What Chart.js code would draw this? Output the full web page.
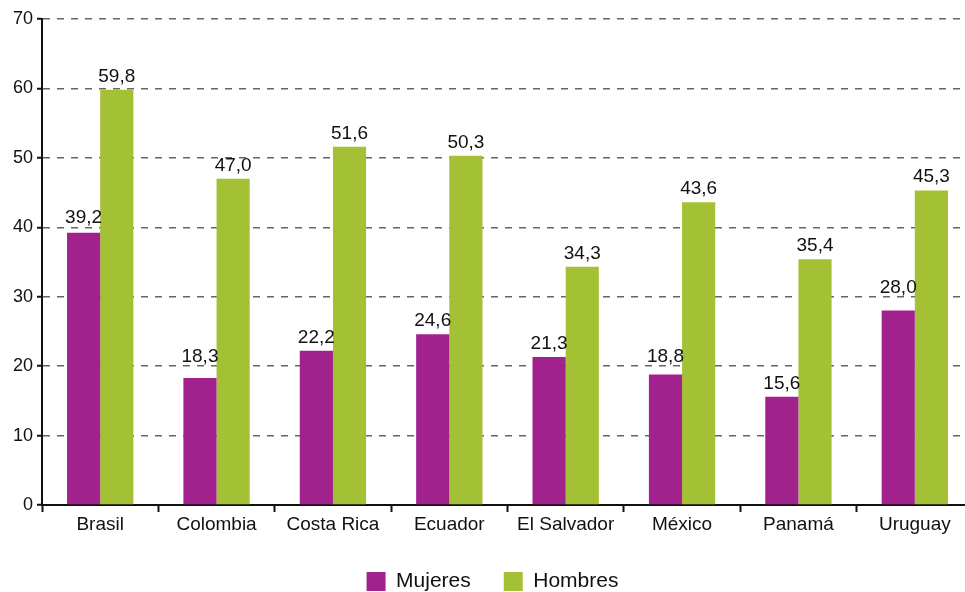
<!DOCTYPE html>
<html>
<head>
<meta charset="utf-8">
<script src="https://cdn.jsdelivr.net/npm/chart.js@4/dist/chart.umd.min.js"></script>
<style>
  html, body { margin: 0; padding: 0; background: #fff; overflow: hidden; }
  #wrap { width: 973px; height: 592px; }
</style>
</head>
<body>
<div id="wrap"><canvas id="chart"></canvas></div>
<script>
const countries = ["Brasil", "Colombia", "Costa Rica", "Ecuador", "El Salvador", "México", "Panamá", "Uruguay"];
const mujeres = [39.2, 18.3, 22.2, 24.6, 21.3, 18.8, 15.6, 28.0];
const hombres = [59.8, 47.0, 51.6, 50.3, 34.3, 43.6, 35.4, 45.3];
const yTicks = [0, 10, 20, 30, 40, 50, 60, 70];

const FONT = "'Liberation Sans', Arial, sans-serif";

// values over the bars, with a decimal comma;
// a label that would sit on a grid line is lifted above it
const barLabels = {
   id: "barLabels",
   afterDatasetsDraw(chart) {
      const ctx = chart.ctx;
      const gridYs = yTicks.map(v => chart.scales.y.getPixelForValue(v));
      ctx.save();
      ctx.font = "19px " + FONT;
      ctx.fillStyle = "#111";
      ctx.textAlign = "center";
      ctx.textBaseline = "alphabetic";
      chart.data.datasets.forEach((ds, i) => {
         chart.getDatasetMeta(i).data.forEach((bar, j) => {
            const txt = ds.data[j].toFixed(1).replace(".", ",");
            let y = bar.y - 8;
            const hit = gridYs.find(g => g >= y - 12 && g <= y + 3);
            if (hit !== undefined) y = hit - 4;
            ctx.fillText(txt, bar.x, y);
         });
      });
      ctx.restore();
   }
};

// nudge the legend a bit to the right, like the original
const legendShift = {
   id: "legendShift",
   afterLayout(chart) {
      chart.legend.left += 6;
      chart.legend.right += 6;
   }
};

new Chart(document.getElementById("chart"), {
   type: "bar",
   data: {
      labels: countries,
      datasets: [
         { label: "Mujeres", data: mujeres, backgroundColor: "#a1228c" },
         { label: "Hombres", data: hombres, backgroundColor: "#a4c136" }
      ]
   },
   options: {
      responsive: true,
      maintainAspectRatio: false,
      animation: false,
      layout: { padding: { top: 19, right: 0, bottom: -10, left: 0 } },
      datasets: { bar: { categoryPercentage: 0.57, barPercentage: 1 } },
      plugins: {
         tooltip: { enabled: false },
         legend: {
            position: "bottom",
            labels: {
               boxWidth: 19,
               boxHeight: 19,
               padding: 33,
               color: "#111",
               font: { family: FONT, size: 21 }
            }
         }
      },
      scales: {
         x: {
            afterFit: s => { s.height = 33; },
            grid: {
               offset: true,
               drawOnChartArea: false,
               drawTicks: true,
               tickLength: 7,
               tickColor: "#111",
               tickWidth: 2
            },
            border: { display: true, color: "#111", width: 2 },
            ticks: { color: "#111", padding: 1, font: { family: FONT, size: 19 } }
         },
         y: {
            min: 0,
            max: 70,
            afterFit: s => { s.width = 42; },
            afterBuildTicks: s => { s.ticks = yTicks.map(v => ({ value: v })); },
            grid: {
               color: "#666",
               lineWidth: 1.5,
               drawTicks: true,
               tickLength: 5,
               tickColor: "#111",
               tickWidth: 2,
               tickBorderDash: []
            },
            border: { display: true, color: "#111", width: 2, dash: [7, 7] },
            ticks: { color: "#111", padding: 4, font: { family: FONT, size: 18 } }
         }
      }
   },
   plugins: [barLabels, legendShift]
});
</script>
</body>
</html>
